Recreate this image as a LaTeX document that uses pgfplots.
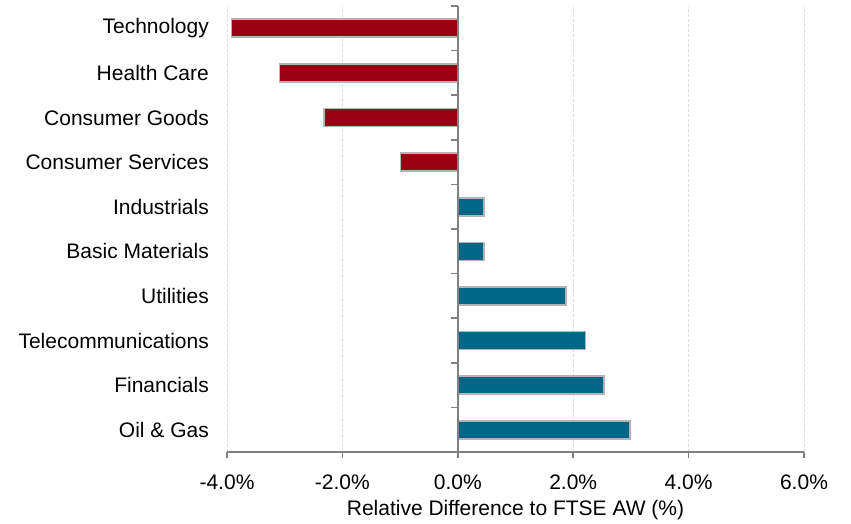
\documentclass[border=0pt]{standalone}
\usepackage{pgfplots}
\pgfplotsset{compat=1.18}
\usepackage{fontspec}
\setmainfont{Liberation Sans}

\definecolor{negred}{RGB}{153,0,18}
\definecolor{posteal}{RGB}{0,102,136}
\definecolor{baredge}{RGB}{180,180,180}
\definecolor{axisgray}{RGB}{128,128,128}
\definecolor{gridgray}{RGB}{220,220,220}

\begin{document}
\fontsize{21pt}{25pt}\selectfont
\begin{tikzpicture}[x=1pt,y=1pt]
\useasboundingbox (0,0) rectangle (851,523);
\begin{axis}[
  at={(227pt,71pt)}, anchor=south west,
  scale only axis, width=577pt, height=446pt,
  clip=false,
  xmin=-4, xmax=6, ymin=-0.5, ymax=9.5,
  xbar, bar width=18pt, bar shift=0pt,
  axis x line*=bottom, axis y line*=left,
  y axis line style={draw=none},
  x axis line style={axisgray, line width=1.6pt, -},
  xtick={-4,-2,...,6},
  xticklabels={-4.0\%,-2.0\%,0.0\%,2.0\%,4.0\%,6.0\%},
  ytick={0,...,9},
  yticklabels={Oil \& Gas,Financials,Telecommunications,Utilities,Basic Materials,Industrials,Consumer Services,Consumer Goods,Health Care,Technology},
  /pgf/number format/assume math mode=true,
  tick align=outside, major tick length=6pt,
  xtick style={axisgray, line width=1.6pt},
  ytick style={draw=none},
  xmajorgrids,
  major grid style={gridgray, dash pattern=on 3pt off 2pt, line width=0.8pt},
  ticklabel style={font=\fontsize{21pt}{25pt}\selectfont},
  xticklabel style={yshift=-10pt},
  yticklabel style={xshift=-5pt},
  label style={font=\fontsize{21pt}{25pt}\selectfont},
  xlabel={Relative Difference to FTSE AW (\%)},
  xlabel style={yshift=4pt},
]
% sectors that are underweight
\addplot[fill=negred, draw=baredge, line width=1.6pt] coordinates {
  (-0.99,6) (-2.32,7) (-3.09,8) (-3.92,9)
};
% sectors that are overweight
\addplot[fill=posteal, draw=baredge, line width=1.6pt] coordinates {
  (2.98,0) (2.53,1) (2.21,2) (1.87,3) (0.45,4) (0.45,5)
};
% vertical zero line with category separators
\draw[axisgray, line width=1.6pt] (axis cs:0,-0.5) -- (axis cs:0,9.5);
\pgfplotsinvokeforeach{0.5,1.5,...,9.5}{
  \draw[axisgray, line width=1.6pt] (axis cs:0,#1) -- ++(-7pt,0pt);
}
\end{axis}
\end{tikzpicture}
\end{document}
